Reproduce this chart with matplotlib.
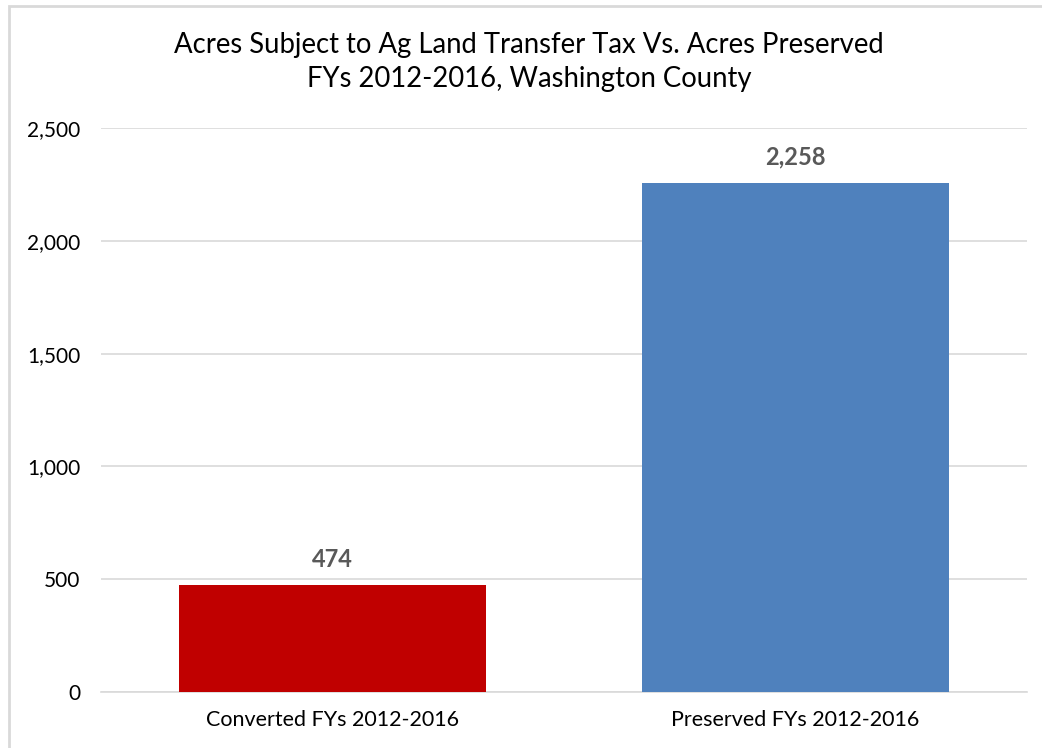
import matplotlib
matplotlib.use("Agg")
import matplotlib.pyplot as plt
from matplotlib.patches import Rectangle

categories = ["Converted FYs 2012-2016", "Preserved FYs 2012-2016"]
values = [474, 2258]
colors = ["#C00000", "#4F81BD"]
yticks = [0, 500, 1000, 1500, 2000, 2500]
title = "Acres Subject to Ag Land Transfer Tax Vs. Acres Preserved\nFYs 2012-2016, Washington County"

plt.rcParams['font.family'] = ['Lato', 'DejaVu Sans']

fig = plt.figure(figsize=(10.42, 7.48), dpi=100)
ax = fig.add_axes([101/1042, 1-692/748, (1027-101)/1042, (692-128)/748])

x = list(range(len(categories)))
bars = ax.bar(x, values, width=0.665, color=colors, zorder=3)
ax.set_xlim(-0.5, 1.5)
ax.set_ylim(0, 2500)
ax.set_yticks(yticks)
ax.set_yticklabels([f"{v:,}" for v in yticks], fontsize=15, color="#000000")
ax.set_xticks(x)
ax.set_xticklabels(categories, fontsize=15.5, color="#000000")
ax.tick_params(axis='x', length=0, pad=13)
ax.tick_params(axis='y', length=0, pad=15)
ax.grid(axis='y', color="#D9D9D9", linewidth=1.2, zorder=0)
for s in ["top", "right", "left"]:
    ax.spines[s].set_visible(False)
ax.spines["bottom"].set_color("#D9D9D9")
ax.spines["bottom"].set_linewidth(1.2)

for b, v in zip(bars, values):
    ax.annotate(f"{v:,}", (b.get_x() + b.get_width()/2, v), xytext=(0, 10),
                textcoords="offset points", ha="center", va="bottom",
                fontsize=17, fontweight="bold", color="#595959")

fig.text(529/1042, 1-62/748, title, ha="center", va="center", fontsize=19.8,
         color="#000000", linespacing=1.38)

fig.add_artist(Rectangle((9/1042, -0.1), 1.2, 1-6/748+0.1, transform=fig.transFigure,
                         fill=False, edgecolor="#D9D9D9", linewidth=2))

fig.savefig("out.png", dpi=100)
